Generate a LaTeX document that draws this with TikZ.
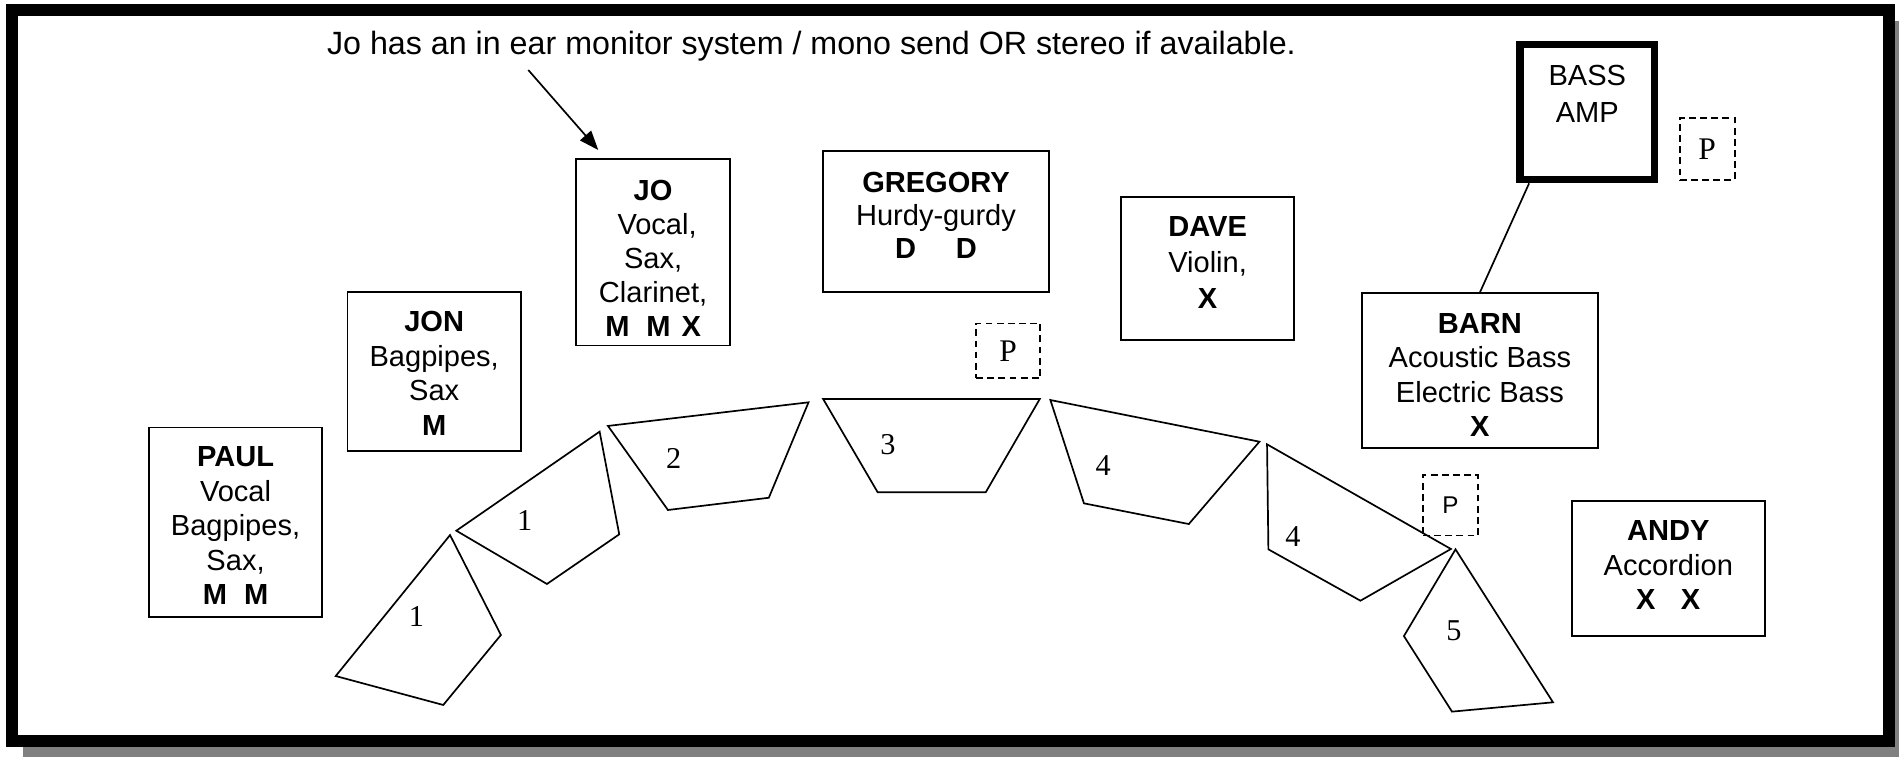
\documentclass[tikz,border=0pt]{standalone}
\usepackage{fontspec}
\setmainfont{Liberation Sans}
\newfontfamily\tnr{Liberation Serif}
\usetikzlibrary{arrows.meta,calc}
\begin{document}
\begin{tikzpicture}[x=0.5pt,y=-0.5pt,
  person/.style={draw, line width=0.75pt, inner sep=0pt},
  txt/.style={align=center, inner sep=0pt, font=\fontsize{12}{14.25}\selectfont},
  pbox/.style={draw, dash pattern=on 2.8pt off 1.8pt, line width=0.7pt, inner sep=0pt, font=\tnr\fontsize{13}{15}\selectfont},
  monitor/.style={draw, line width=0.7pt, line join=miter},
  num/.style={font=\tnr\fontsize{12.5}{14}\selectfont, inner sep=0pt},
  link/.style={line width=0.7pt},
]
\useasboundingbox (0,0) rectangle (1568,625);
% frame with shadow
\fill[black!50] (19,17) rectangle (1568,625);
\draw[line width=5pt, fill=white] (10,8.5) rectangle (1560,612);

% annotation
\node[anchor=base west, inner sep=0pt, font=\fontsize{13.3}{15}\selectfont] (note) at (269.7,45.4)
  {Jo has an in ear monitor system / mono send OR stereo if available.};

% musicians: boxes
\node[person, minimum width=71.5pt, minimum height=78.25pt] (paul) at (194.5,431.25) {};
\node[person, minimum width=71.5pt, minimum height=65.7pt] (jon) at (358.5,306.7) {};
\node[person, minimum width=63.75pt, minimum height=77pt] (jo) at (539.25,208.35) {};
\node[person, minimum width=93.15pt, minimum height=58.35pt] (gregory) at (772.85,183.05) {};
\node[person, minimum width=71.5pt, minimum height=59.15pt] (dave) at (997.1,221.55) {};
\node[person, minimum width=97.45pt, minimum height=64pt] (barn) at (1221.95,306.2) {};
\node[person, minimum width=79.8pt, minimum height=55.75pt] (andy) at (1377.5,469.45) {};

% musicians: texts
\node[txt] (paul-t) at (paul.center |- 0,434.25)
  {\textbf{PAUL}\\Vocal\\Bagpipes,\\Sax,\\\textbf{M\hspace{7pt}M}};
\node[txt] (jon-t) at (jon.center |- 0,308.3)
  {\textbf{JON}\\Bagpipes,\\Sax\\\textbf{M}};
\node[txt, font=\fontsize{12}{14}\selectfont] (jo-t) at (jo.center |- 0,213.5)
  {\textbf{JO}\\\hspace{3.3pt}Vocal,\\Sax,\\Clarinet,\\\textbf{M\hspace{7pt}M\hspace{4.5pt}X}};
\node[txt, font=\fontsize{12}{13.6}\selectfont] (gregory-t) at (gregory.center |- 0,177.5)
  {\textbf{GREGORY}\\Hurdy-gurdy\\\textbf{D\hspace{16.5pt}D}};
\node[txt, font=\fontsize{12}{15}\selectfont] (dave-t) at (dave.center |- 0,216.7)
  {\textbf{DAVE}\\Violin,\\\textbf{X}};
\node[txt] (barn-t) at (barn.center |- 0,309.7)
  {\textbf{BARN}\\Acoustic Bass\\Electric Bass\\\textbf{X}};
\node[txt] (andy-t) at (andy.center |- 0,466.8)
  {\textbf{ANDY}\\Accordion\\\textbf{X\hspace{10.5pt}X}};

% bass amp
\node[draw, line width=3pt, minimum width=55.65pt, minimum height=55.9pt, align=center,
  inner sep=0pt, font=\fontsize{12}{15}\selectfont] (amp) at (1310.65,92.5) {BASS\\AMP\\\mbox{}};

% power points
\node[pbox, minimum width=26.5pt, minimum height=22.7pt] (p1) at (832.5,289.7) {P};
\node[pbox, minimum width=22.65pt, minimum height=25.7pt] (p2) at (1409.65,122.9) {P};
\node[pbox, minimum width=22.7pt, minimum height=25pt, font=\fontsize{10}{12}\selectfont] (p3) at (1197.7,417.25) {P};

% connectors
\coordinate (a1) at (436.2,57.8);
\coordinate (a2) at (494,123.9);
\draw[link, -{Triangle[length=8pt,width=6pt]}] (a1) -- (a2);
\draw[link] ($(amp.south west)!0.09!(amp.south east)$) -- (barn.north);

% monitor wedges
\draw[monitor] (371.6,441.8) -- (413.6,524.3) -- (366,582.1) -- (277.2,558.2) -- cycle;
\node[num] (m1) at (343.9,509.2) {1};
\draw[monitor] (376.8,438.2) -- (495.1,356.4) -- (511.3,441.2) -- (451.6,482.2) -- cycle;
\node[num] (m2) at (433.2,429.4) {1};
\draw[monitor] (502,351.7) -- (667.6,332.2) -- (634.8,411) -- (551.5,421.1) -- cycle;
\node[num] (m3) at (556.3,378.5) {2};
\draw[monitor] (679.7,329.5) -- (858.5,329.5) -- (813.9,406.5) -- (724.7,406.5) -- cycle;
\node[num] (m4) at (733.2,367.5) {3};
\draw[monitor] (867.3,330.3) -- (1039.9,364.7) -- (981.6,432.7) -- (895,415.6) -- cycle;
\node[num] (m5) at (910.8,384.8) {4};
\draw[monitor] (1046.2,366.9) -- (1198,453.3) -- (1123.3,496) -- (1047.3,453.6) -- cycle;
\node[num] (m6) at (1067.5,443.1) {4};
\draw[monitor] (1201.8,453.6) -- (1282.3,579.9) -- (1198.9,587.6) -- (1159.2,525.2) -- cycle;
\node[num] (m7) at (1200.5,520.8) {5};
\end{tikzpicture}
\end{document}
